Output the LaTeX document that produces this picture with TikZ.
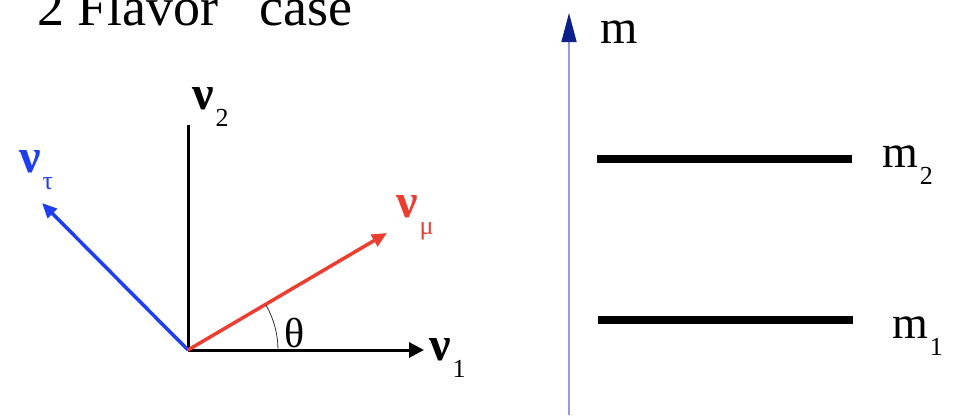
\documentclass[tikz,border=0pt]{standalone}
\usepackage{fontspec}
\setmainfont{Liberation Serif}
\usetikzlibrary{arrows.meta}
\definecolor{mucol}{RGB}{236,62,48}
\definecolor{taucol}{RGB}{30,62,240}
\definecolor{maxis}{RGB}{150,156,218}
\definecolor{mhead}{RGB}{12,32,140}
\newcommand{\labsz}{\fontsize{48}{48}\selectfont}
\newcommand{\subsz}{\fontsize{26}{26}\selectfont\mdseries}
\newcommand{\withsub}[2]{#1\kern2pt\raisebox{-17pt}{\subsz #2}}
\begin{document}
\begin{tikzpicture}[x=1pt,y=-1pt,
    lab/.style={anchor=base west, inner sep=0pt, font=\labsz},
    nulab/.style={lab, font=\labsz\bfseries},
    vec/.style={line width=3.5pt, -{Triangle[length=15pt,width=13pt]}},
    level/.style={line width=8pt}]
      \useasboundingbox (0,0) rectangle (953,415);
      \node (title) at (37,25) [lab, font=\fontsize{54}{54}\selectfont] {2 Flavor~~~case};
      % flavour and mass axes
      \coordinate (O) at (188,350);
      \coordinate (e1) at (424,350);
      \coordinate (e2) at (188,125);
      \coordinate (emu) at (387,233);
      \coordinate (etau) at (42,203);
      \draw[line width=3pt] (O) -- (e2);
      \draw[line width=3pt, -{Triangle[length=15pt,width=15pt]}] (O) -- (e1);
      \draw[vec, taucol] (O) -- (etau);
      \draw[vec, mucol] (O) -- (emu);
      \draw[line width=0.8pt, black!80] (O) ++(0:90) arc[start angle=0, end angle=-30, radius=90];
      \node (nu2) at (192,109) [nulab] {\withsub{ν}{2}};
      \node (nu1) at (429,360) [nulab] {\withsub{ν}{1}};
      \node (numu) at (396,217) [nulab, mucol] {\withsub{ν}{μ}};
      \node (nutau) at (19,172) [nulab, taucol] {\withsub{ν}{τ}};
      \node (theta) at (284,347) [lab, font=\fontsize{42}{42}\selectfont] {θ};
      % mass levels
      \coordinate (mbot) at (569,415);
      \coordinate (mtop) at (569,13);
      \draw[maxis, line width=1.5pt, -{Triangle[length=29pt,width=15pt,color=mhead]}] (mbot) -- (mtop);
      \node (m) at (600,43) [lab] {m};
      \coordinate (m2l) at (597,159);
      \coordinate (m2r) at (852,159);
      \coordinate (m1l) at (598,320);
      \coordinate (m1r) at (853,320);
      \draw[level] (m2l) -- (m2r);
      \draw[level] (m1l) -- (m1r);
      \node (m2) at (882,167) [lab, font=\fontsize{46}{46}\selectfont] {\withsub{m}{2}};
      \node (m1) at (892,338) [lab, font=\fontsize{46}{46}\selectfont] {\withsub{m}{1}};
\end{tikzpicture}
\end{document}
